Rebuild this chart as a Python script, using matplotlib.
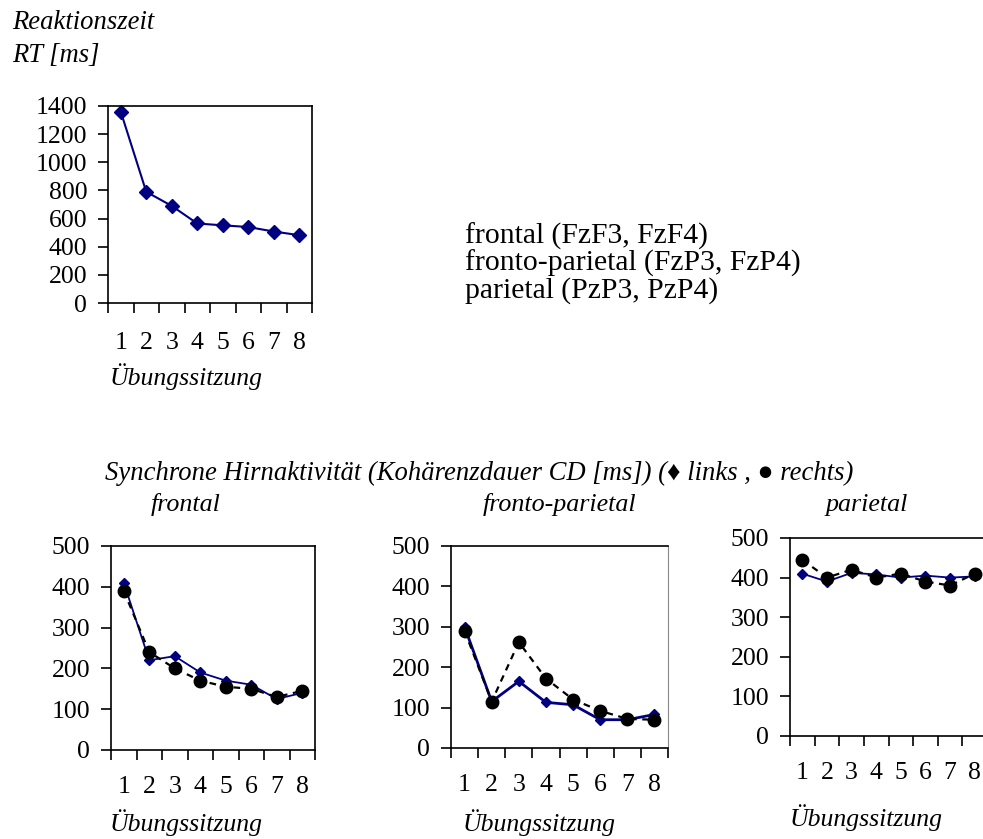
import matplotlib
matplotlib.use("Agg")
import matplotlib.pyplot as plt
import numpy as np

plt.rcParams['font.family'] = ['Liberation Serif', 'DejaVu Serif', 'DejaVu Sans']

# data
sessions = [1, 2, 3, 4, 5, 6, 7, 8]
rt = [1360, 790, 690, 565, 552, 540, 508, 482]

frontal_links = [410, 220, 230, 190, 170, 160, 125, 140]
frontal_rechts = [390, 240, 200, 170, 155, 150, 130, 145]
fp_links = [300, 115, 165, 113, 107, 70, 70, 83]
fp_rechts = [290, 115, 262, 172, 120, 92, 72, 70]
par_links = [410, 390, 412, 408, 400, 405, 400, 403]
par_rechts = [445, 400, 420, 400, 410, 390, 380, 410]

legend_lines = ["frontal (FzF3, FzF4)",
                "fronto-parietal (FzP3, FzP4)",
                "parietal (PzP3, PzP4)"]
panel_titles = ["frontal", "fronto-parietal", "parietal"]

W, H = 983, 839
fig = plt.figure(figsize=(W / 100, H / 100), dpi=100)
NAVY = "#000080"
FS = 18.5


def px_axes(l, t, r, b):
    # pixel box -> figure fraction axes
    return fig.add_axes([l / W, 1 - b / H, (r - l) / W, (b - t) / H])


def style(ax, ymax, ystep, xpad):
    ax.set_xlim(0.5, 8.5)
    ax.set_ylim(0, ymax)
    ax.set_yticks(np.arange(0, ymax + 1, ystep))
    # ticks on category borders, labels in the middle
    ax.set_xticks(np.arange(0.5, 9, 1))
    ax.set_xticklabels([])
    ax.set_xticks(sessions, minor=True)
    ax.set_xticklabels([str(s) for s in sessions], minor=True)
    ax.tick_params(axis='x', which='major', direction='out', length=7, width=1.2)
    ax.tick_params(axis='x', which='minor', length=0, pad=xpad, labelsize=FS)
    ax.tick_params(axis='y', direction='out', length=7, width=1.2, pad=8, labelsize=FS)
    for s in ax.spines.values():
        s.set_linewidth(1.2)


def fig_text(x, y, s, size=FS, **kw):
    fig.text(x / W, 1 - y / H, s, fontsize=size, **kw)


# top: reaction time
ax0 = px_axes(108, 106, 312, 303)
ax0.plot(sessions, rt, color=NAVY, lw=1.5, marker='D', ms=7.5, clip_on=False)
style(ax0, 1400, 200, 21)

fig_text(12, 29, "Reaktionszeit", style='italic', va='baseline', size=19.2)
fig_text(12, 62, "RT [ms]", style='italic', va='baseline', size=19.2)
fig_text(110, 377, "Übungssitzung", style='italic', va='center')

for i, line in enumerate(legend_lines):
    fig_text(465, 244 + i * 27, line, va='baseline', size=21.3)

# bottom: coherence duration
fig_text(105, 480, "Synchrone Hirnaktivität (Kohärenzdauer CD [ms]) (♦ links , ● rechts)",
         style='italic', va='baseline', size=19.2)

boxes = [(111, 546, 315, 750), (451, 546, 668, 748), (790, 538, 987, 736)]
links = [frontal_links, fp_links, par_links]
rechts = [frontal_rechts, fp_rechts, par_rechts]
title_x = [151, 483, 826]
xlab = [(110, 823), (463, 823), (790, 818)]
navy_lw = [1.3, 2.0, 1.3]

for k in range(3):
    ax = px_axes(*boxes[k])
    ax.plot(sessions, links[k], color=NAVY, lw=navy_lw[k], marker='D', ms=5.5, clip_on=False)
    ax.plot(sessions, rechts[k], color='black', lw=1.6, ls=(0, (3, 2.5)),
            marker='o', ms=9, clip_on=False)
    style(ax, 500, 100, 19)
    if k == 1:
        ax.spines['right'].set_color('#888888')
        ax.spines['right'].set_linewidth(0.8)
    fig_text(title_x[k], 511, panel_titles[k], style='italic', va='baseline', size=18.7)
    fig_text(xlab[k][0], xlab[k][1], "Übungssitzung", style='italic', va='center')

fig.savefig("out.png", dpi=100)
